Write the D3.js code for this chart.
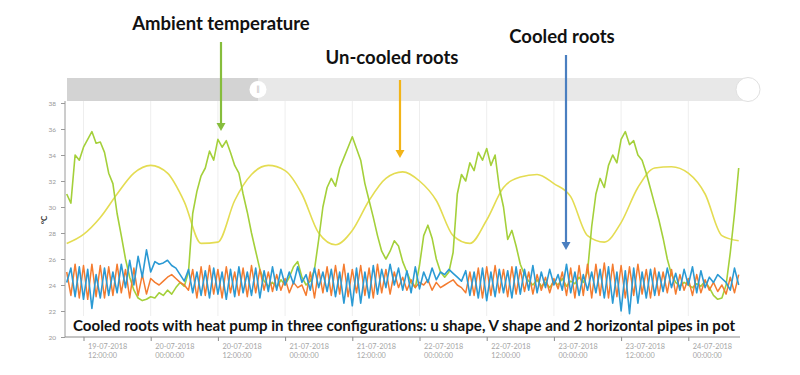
<!DOCTYPE html>
<html>
<head>
<meta charset="utf-8">
<script src="https://cdn.jsdelivr.net/npm/d3@7"></script>
<style>
  body { margin: 0; background: #fff; }
  svg { display: block; font-family: Lato, "Open Sans", sans-serif; }
</style>
</head>
<body>
<svg width="800" height="375"></svg>
<script>
// tick labels on the time axis
const tickLabels = [
    "19-07-2018 12:00:00", "20-07-2018 00:00:00", "20-07-2018 12:00:00",
    "21-07-2018 00:00:00", "21-07-2018 12:00:00", "22-07-2018 00:00:00",
    "22-07-2018 12:00:00", "23-07-2018 00:00:00", "23-07-2018 12:00:00",
    "24-07-2018 00:00:00"
];
const yTicks = [20, 22, 24, 26, 28, 30, 32, 34, 36, 38];

// sampling of the series
const seriesStart = "19-07-2018 09:00:00";
const fineStepMinutes = 45;
const coarseStepMinutes = 180;

const ambientTemp = [
    31.0, 30.3, 34.0, 33.6, 34.6, 35.2, 35.8, 34.9, 35.0, 34.2,
    32.6, 31.8, 29.5, 27.8, 26.0, 24.6, 23.6, 23.0, 22.8, 22.9,
    23.1, 23.0, 23.4, 23.2, 23.6, 23.3, 23.8, 24.2, 23.9, 25.0,
    29.5, 31.2, 32.4, 33.0, 34.3, 33.6, 35.2, 34.6, 35.1, 34.2,
    33.2, 32.6, 31.0, 29.6, 28.0, 26.6, 25.2, 24.3, 23.9, 24.2,
    23.8, 24.4, 24.0, 24.6, 25.4, 25.8, 24.6, 24.0, 24.3, 25.2,
    27.5, 30.0, 31.5, 32.2, 31.6, 33.0, 33.8, 34.6, 35.4, 34.5,
    33.6, 31.8, 30.5, 29.2, 27.8, 26.6, 26.0, 26.6, 27.4, 27.0,
    25.8, 25.0, 24.2, 23.8, 25.5, 27.8, 28.6, 27.6, 26.0, 25.0,
    24.6, 25.0, 26.5, 31.0, 32.5, 32.0, 33.4, 32.8, 34.2, 33.6,
    34.5, 33.2, 34.0, 31.5, 30.0, 27.5, 28.2, 27.0, 25.6, 24.8,
    24.3, 24.0, 24.4, 23.9, 24.2, 23.8, 24.3, 24.0, 24.5, 23.9,
    24.3, 24.1, 24.6, 24.2, 25.0, 28.5, 31.0, 32.2, 31.5, 33.2,
    34.0, 33.4, 35.2, 35.8, 34.8, 35.1, 34.0, 33.6, 32.6, 31.4,
    30.2, 29.0, 27.6, 26.0, 24.8, 24.2, 23.9, 24.2, 24.0, 23.8,
    24.1, 23.9, 24.3, 23.8, 23.2, 22.9, 23.0, 24.0, 26.5, 29.5,
    33.0
];

const uncooledRoots = [
    27.2, 27.9, 29.2, 31.0, 32.6, 33.2, 32.6, 30.4, 27.2, 27.3,
    30.5, 32.5, 33.2, 32.8, 31.0, 28.0, 27.1, 28.2, 30.5, 32.2,
    32.7, 32.0, 30.5, 27.8, 27.2, 29.0, 31.5, 32.3, 32.5, 31.8,
    30.8, 27.8, 27.3, 28.8, 31.5, 33.0, 33.1, 32.6, 31.0, 27.8,
    27.4
];

const cooledBlue = [
    24.2, 25.3, 23.1, 25.4, 22.9, 25.2, 22.2, 24.8, 23.0, 25.3,
    23.2, 25.0, 23.4, 25.6, 23.8, 25.9, 24.0, 26.2, 24.6, 26.7,
    25.0, 25.8, 25.6, 25.7, 25.9, 25.5, 25.3, 24.8, 24.3, 25.2,
    23.4, 25.0, 23.2, 25.1, 23.0, 25.3, 23.3, 25.0, 22.9, 25.2,
    23.1, 25.4, 23.4, 25.0, 23.2, 25.3, 23.0, 25.1, 23.5, 25.4,
    23.6, 25.2, 24.0, 25.0, 24.1, 25.4, 24.2, 24.8, 23.6, 25.3,
    23.8, 25.0, 23.5, 25.2, 23.1, 25.0, 22.6, 24.9, 22.4, 25.3,
    22.6, 25.0, 23.0, 25.5, 23.3, 25.2, 23.8, 25.6, 24.0, 25.3,
    23.6, 25.1, 23.4, 25.4, 23.7, 25.0, 24.2, 25.3, 24.4, 25.0,
    24.8, 25.2, 24.9, 24.6, 24.3, 25.1, 23.2, 25.0, 23.0, 25.3,
    22.8, 25.0, 23.1, 25.2, 23.4, 25.1, 23.0, 25.4, 23.3, 25.2,
    23.6, 25.5, 23.4, 25.0, 23.8, 25.2, 24.0, 24.8, 23.6, 25.6,
    23.4, 25.0, 23.2, 24.8, 23.6, 25.0, 23.4, 25.2, 23.0, 25.4,
    22.6, 25.0, 22.0, 25.1, 21.8, 25.3, 22.6, 25.0, 23.0, 25.2,
    23.2, 25.0, 23.5, 25.3, 23.8, 24.9, 23.6, 25.2, 24.0, 25.4,
    23.4, 25.1, 23.8, 24.6, 24.2, 24.8, 24.5, 24.2, 23.6, 25.3,
    24.0
];

const cooledOrange = [
    25.0, 23.2, 25.6, 23.0, 25.5, 22.9, 25.6, 23.1, 25.5, 23.0,
    25.4, 23.2, 25.6, 23.4, 25.2, 23.0, 25.3, 23.2, 24.8, 23.3,
    24.5, 24.2, 24.0, 24.3, 24.6, 24.8, 24.5, 24.2, 24.0, 23.6,
    25.2, 23.0, 25.4, 23.2, 25.5, 23.3, 25.2, 23.0, 25.4, 23.4,
    25.0, 23.2, 25.3, 23.1, 25.5, 23.4, 25.2, 23.6, 25.0, 23.5,
    24.8, 23.6, 24.5, 23.4, 24.2, 23.8, 24.0, 23.2, 25.0, 23.0,
    25.2, 23.4, 25.4, 23.2, 25.5, 23.3, 25.6, 23.1, 25.2, 23.4,
    25.5, 23.2, 25.3, 23.0, 25.6, 23.4, 25.2, 23.3, 25.0, 23.8,
    24.6, 23.6, 24.4, 23.8, 24.2, 24.0, 24.4, 23.6, 24.2, 23.8,
    24.0, 24.2, 24.4, 24.0, 23.8, 23.4, 25.0, 23.2, 25.3, 23.0,
    25.4, 23.2, 25.5, 23.4, 25.2, 23.1, 25.4, 23.3, 25.2, 23.5,
    25.0, 23.3, 24.8, 23.6, 24.6, 23.4, 24.5, 23.7, 25.0, 23.2,
    25.3, 23.0, 25.5, 23.2, 25.6, 23.0, 25.6, 23.2, 25.7, 23.0,
    25.6, 23.1, 25.5, 23.0, 25.4, 23.2, 25.6, 23.3, 25.2, 23.0,
    25.3, 23.2, 25.0, 23.4, 25.2, 23.3, 24.8, 23.6, 24.5, 23.2,
    24.8, 23.4, 24.4, 23.6, 24.2, 23.5, 24.0, 23.3, 24.6, 23.4,
    24.8
];

const captionText = "Cooled roots with heat pump in three configurations: u shape, V shape and 2 horizontal pipes in pot";

const parseTime = d3.timeParse("%d-%m-%Y %H:%M:%S");
const t0 = parseTime(seriesStart);

function toPoints(values, stepMinutes) {
    return values.map((v, i) => ({ t: d3.timeMinute.offset(t0, i * stepMinutes), v }));
}

const svg = d3.select("svg");

const plotLeft = 65, plotRight = 740, plotTop = 101, plotBottom = 337;

const x = d3.scaleTime()
    .domain([t0, d3.timeHour.offset(t0, 120)])
    .range([66.7, 738.7]);

const y = d3.scaleLinear()
    .domain([20, 38])
    .range([337, 103]);

// scrollbar / navigator strip on top
svg.append("rect")
    .attr("x", 67).attr("y", 78)
    .attr("width", 678).attr("height", 23)
    .attr("fill", "#e8e8e8");
svg.append("rect")
    .attr("x", 67).attr("y", 78)
    .attr("width", 191).attr("height", 23)
    .attr("fill", "#d3d3d3");
svg.append("circle")
    .attr("cx", 258).attr("cy", 89.5).attr("r", 8.5)
    .attr("fill", "#fff");
svg.append("text")
    .attr("x", 258).attr("y", 92)
    .attr("text-anchor", "middle")
    .attr("font-size", "7px")
    .attr("fill", "#aaa")
    .text("‖");
svg.append("circle")
    .attr("cx", 748).attr("cy", 89.5).attr("r", 12)
    .attr("fill", "#fff")
    .attr("stroke", "#e0e0e0");

const tickDates = tickLabels.map(parseTime);

// vertical grid lines
svg.append("g")
    .selectAll("line")
    .data(tickDates)
    .join("line")
    .attr("x1", d => x(d)).attr("x2", d => x(d))
    .attr("y1", plotTop).attr("y2", plotBottom)
    .attr("stroke", "#eeeeee")
    .attr("stroke-width", 1);

// y axis
const yAxis = svg.append("g")
    .attr("transform", `translate(${plotLeft},0)`)
    .call(d3.axisLeft(y).tickValues(yTicks).tickSize(4).tickSizeOuter(0));
yAxis.select(".domain").attr("stroke", "#9a9a9a").attr("d", `M0,${plotTop}V${plotBottom}`);
yAxis.selectAll(".tick line").attr("stroke", "#9a9a9a");
yAxis.selectAll(".tick text")
    .attr("x", -9)
    .attr("font-size", "6.5px")
    .attr("fill", "#999")
    .attr("font-family", "Lato, sans-serif");

svg.append("text")
    .attr("transform", "rotate(-90)")
    .attr("x", -220)
    .attr("y", 47)
    .attr("text-anchor", "middle")
    .attr("font-size", "8px")
    .attr("font-weight", "bold")
    .attr("fill", "#333")
    .text("°C");

// x axis
const xAxis = svg.append("g")
    .attr("transform", `translate(0,${plotBottom})`)
    .call(d3.axisBottom(x).tickValues(tickDates).tickSize(4).tickSizeOuter(0).tickFormat(""));
xAxis.select(".domain").attr("stroke", "#8a8a8a").attr("stroke-width", 1.2)
    .attr("d", `M${plotLeft},0H${plotRight}`);
xAxis.selectAll(".tick line").attr("stroke", "#8a8a8a");

const fmtDate = d3.timeFormat("%d-%m-%Y");
const fmtTime = d3.timeFormat("%H:%M:%S");
const xLabels = xAxis.selectAll(".tick")
    .append("text")
    .attr("x", 4)
    .attr("y", 12)
    .attr("text-anchor", "start")
    .attr("font-size", "7.3px")
    .attr("fill", "#a5a5a5")
    .attr("font-family", "Lato, sans-serif");
xLabels.append("tspan").attr("x", 4).attr("dy", 0).text(d => fmtDate(d));
xLabels.append("tspan").attr("x", 4).attr("dy", 9).text(d => fmtTime(d));

// series
svg.append("defs").append("clipPath").attr("id", "plot-clip")
    .append("rect")
    .attr("x", plotLeft).attr("y", plotTop)
    .attr("width", plotRight - plotLeft).attr("height", plotBottom - plotTop);

const plot = svg.append("g").attr("clip-path", "url(#plot-clip)");

const line = d3.line().x(d => x(d.t)).y(d => y(d.v));
const smoothLine = d3.line().x(d => x(d.t)).y(d => y(d.v)).curve(d3.curveMonotoneX);

plot.append("path")
    .datum(toPoints(uncooledRoots, coarseStepMinutes))
    .attr("d", smoothLine)
    .attr("fill", "none")
    .attr("stroke", "#e4dc52")
    .attr("stroke-width", 1.6);

plot.append("path")
    .datum(toPoints(ambientTemp, fineStepMinutes))
    .attr("d", line)
    .attr("fill", "none")
    .attr("stroke", "#a4d03a")
    .attr("stroke-width", 1.6)
    .attr("stroke-linejoin", "round");

plot.append("path")
    .datum(toPoints(cooledOrange, fineStepMinutes))
    .attr("d", line)
    .attr("fill", "none")
    .attr("stroke", "#f47c30")
    .attr("stroke-width", 1.5)
    .attr("stroke-linejoin", "round");

plot.append("path")
    .datum(toPoints(cooledBlue, fineStepMinutes))
    .attr("d", line)
    .attr("fill", "none")
    .attr("stroke", "#2b9ad4")
    .attr("stroke-width", 1.6)
    .attr("stroke-linejoin", "round");

// caption over the bottom of the plot
svg.append("rect")
    .attr("x", 68).attr("y", 316)
    .attr("width", 670).attr("height", 20)
    .attr("fill", "#fff");
svg.append("text")
    .attr("x", 73)
    .attr("y", 331)
    .attr("font-size", "15px")
    .attr("font-weight", "bold")
    .attr("fill", "#111")
    .attr("textLength", 662)
    .attr("lengthAdjust", "spacingAndGlyphs")
    .text(captionText);

// annotations with arrows
const annotations = [
    { label: "Ambient temperature", tx: 221, ty: 30, ax: 221, y1: 42, y2: 131, color: "#86bd3c" },
    { label: "Un-cooled roots", tx: 392, ty: 64, ax: 400, y1: 80, y2: 158, color: "#f2b418" },
    { label: "Cooled roots", tx: 562, ty: 43, ax: 566, y1: 55, y2: 250, color: "#4a7fc0" }
];

annotations.forEach(a => {
    svg.append("text")
        .attr("x", a.tx)
        .attr("y", a.ty)
        .attr("text-anchor", "middle")
        .attr("font-size", "18.5px")
        .attr("font-weight", "bold")
        .attr("fill", "#111")
        .text(a.label);
    svg.append("line")
        .attr("x1", a.ax).attr("x2", a.ax)
        .attr("y1", a.y1).attr("y2", a.y2 - 7)
        .attr("stroke", a.color)
        .attr("stroke-width", 2.2);
    svg.append("path")
        .attr("d", `M${a.ax - 4.5},${a.y2 - 8}L${a.ax + 4.5},${a.y2 - 8}L${a.ax},${a.y2}Z`)
        .attr("fill", a.color);
});
</script>
</body>
</html>
